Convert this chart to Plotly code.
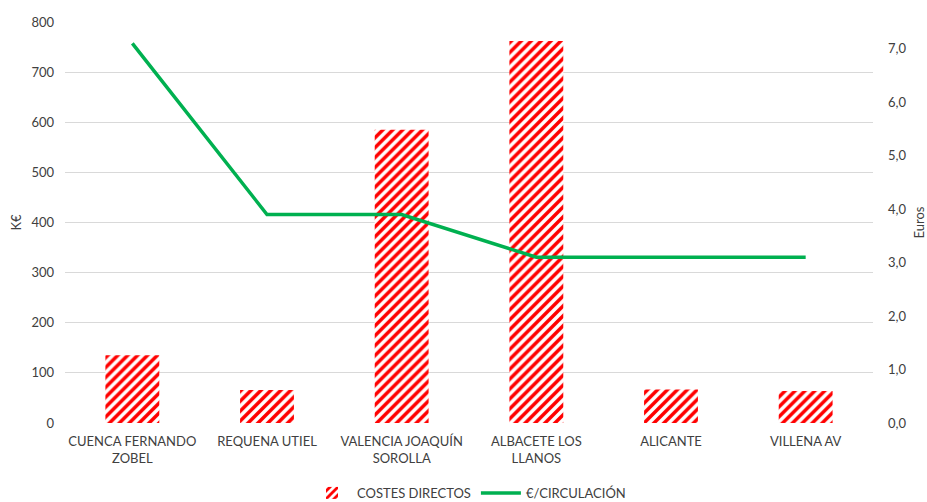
import plotly.graph_objects as go

# Estaciones y valores
estaciones = [
    "CUENCA FERNANDO<br>ZOBEL",
    "REQUENA UTIEL",
    "VALENCIA JOAQUÍN<br>SOROLLA",
    "ALBACETE LOS<br>LLANOS",
    "ALICANTE",
    "VILLENA AV",
]
costes_directos = [135, 66, 585, 762, 67, 64]          # K€
euros_circulacion = [7.1, 3.9, 3.9, 3.1, 3.1, 3.1]      # €/circulación

left_ticks = [0, 100, 200, 300, 400, 500, 600, 700, 800]
right_ticks = [0, 1, 2, 3, 4, 5, 6, 7]
right_labels = ["0,0", "1,0", "2,0", "3,0", "4,0", "5,0", "6,0", "7,0"]

FONT = "Lato, Open Sans, sans-serif"
GREY = "#404040"

fig = go.Figure()

fig.add_trace(go.Bar(
    x=estaciones,
    y=costes_directos,
    name="COSTES DIRECTOS",
    width=0.4,
    marker=dict(
        color="white",
        line=dict(width=0),
        pattern=dict(shape="/", fgcolor="#FF0000", bgcolor="white",
                     size=7, solidity=0.5, fillmode="replace"),
    ),
))

fig.add_trace(go.Scatter(
    x=estaciones,
    y=euros_circulacion,
    name="€/CIRCULACIÓN",
    mode="lines",
    line=dict(color="#00B050", width=3.5),
    yaxis="y2",
))

fig.update_layout(
    width=927, height=502,
    margin=dict(l=65, r=54, t=22, b=79),
    paper_bgcolor="white", plot_bgcolor="white",
    font=dict(family=FONT, size=13, color=GREY),
    bargap=0.6,
    showlegend=True,
    legend=dict(orientation="h", x=0.5, xanchor="center", yref="container",
                y=0.018, yanchor="middle",
                font=dict(size=13, color=GREY), itemwidth=40),
    xaxis=dict(showgrid=False, showline=False, ticks="", tickfont=dict(size=13, color=GREY),
               tickangle=0, automargin=False, ticklabelstandoff=9),
    yaxis=dict(range=[0, 800], tickvals=left_ticks, showgrid=True, gridcolor="#D9D9D9",
               gridwidth=1, zeroline=False, showline=False, ticks="", automargin=False,
               ticklabelstandoff=10,
               title=dict(text="K€", font=dict(size=13, color=GREY), standoff=6),
               tickfont=dict(size=13, color=GREY)),
    yaxis2=dict(range=[0, 7.5], tickvals=right_ticks, ticktext=right_labels,
                overlaying="y", side="right", showgrid=False, zeroline=False,
                showline=False, ticks="", automargin=False, ticklabelstandoff=14,
                title=dict(text="Euros", font=dict(size=13, color=GREY), standoff=10),
                tickfont=dict(size=13, color=GREY)),
)

fig.write_html("out.html")
